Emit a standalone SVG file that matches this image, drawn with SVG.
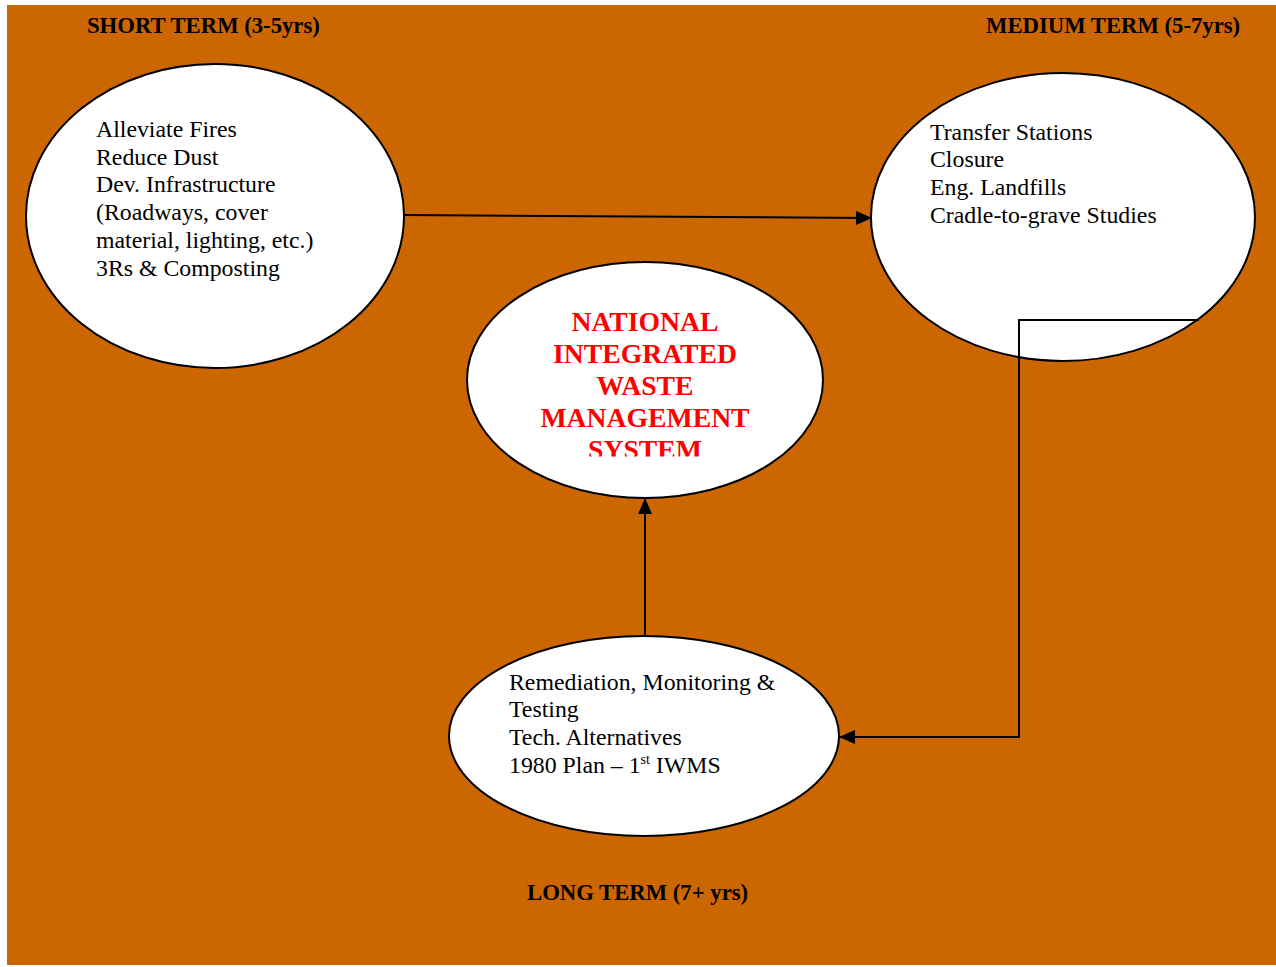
<svg xmlns="http://www.w3.org/2000/svg" width="1276" height="967" viewBox="0 0 1276 967">
<defs>
<style>
.node{fill:#fff;stroke:#000;stroke-width:2}
.hdr{font-family:"Liberation Serif",serif;font-weight:bold;font-size:22.7px;fill:#000}
.body{font-family:"Liberation Serif",serif;font-size:23.8px;fill:#000}
.title{font-family:"Liberation Serif",serif;font-weight:bold;font-size:27.7px;fill:#ff0000;text-anchor:middle}
.conn{fill:none;stroke:#000;stroke-width:2}
</style>
<marker id="arrL" markerWidth="16" markerHeight="14" refX="15" refY="7" orient="auto" markerUnits="userSpaceOnUse" viewBox="0 0 16 14">
<path d="M0,0 L16,7 L0,14 z" fill="#000"/>
</marker>
<clipPath id="clipC"><rect x="460" y="260" width="370" height="196.5"/></clipPath>
</defs>
<rect x="7" y="5" width="1269" height="960" fill="#CC6600"/>
<text class="hdr" x="87" y="33">SHORT TERM (3-5yrs)</text>
<text class="hdr" x="986" y="33">MEDIUM TERM (5-7yrs)</text>
<text class="hdr" x="527" y="900">LONG TERM (7+ yrs)</text>
<g id="short-term">
<ellipse class="node" cx="215" cy="216" rx="189" ry="152"/>
<text class="body" x="96" y="137">Alleviate Fires</text>
<text class="body" x="96" y="165">Reduce Dust</text>
<text class="body" x="96" y="192">Dev. Infrastructure</text>
<text class="body" x="96" y="220">(Roadways, cover</text>
<text class="body" x="96" y="248">material, lighting, etc.)</text>
<text class="body" x="96" y="276">3Rs &amp; Composting</text>
</g>
<g id="medium-term">
<ellipse class="node" cx="1063" cy="217" rx="192" ry="144"/>
<text class="body" x="930" y="140">Transfer Stations</text>
<text class="body" x="930" y="167">Closure</text>
<text class="body" x="930" y="195">Eng. Landfills</text>
<text class="body" x="930" y="223">Cradle-to-grave Studies</text>
</g>
<g id="center">
<ellipse class="node" cx="645" cy="380" rx="178" ry="118"/>
<g clip-path="url(#clipC)">
<text class="title" x="645" y="331">NATIONAL</text>
<text class="title" x="645" y="363">INTEGRATED</text>
<text class="title" x="645" y="395">WASTE</text>
<text class="title" x="645" y="427">MANAGEMENT</text>
<text class="title" x="645" y="459">SYSTEM</text>
</g>
</g>
<g id="long-term">
<ellipse class="node" cx="644" cy="736" rx="195" ry="100"/>
<text class="body" x="509" y="690">Remediation, Monitoring &amp;</text>
<text class="body" x="509" y="717">Testing</text>
<text class="body" x="509" y="745">Tech. Alternatives</text>
<text class="body" x="509" y="773">1980 Plan – 1<tspan font-size="14" dy="-9">st</tspan><tspan dy="9"> IWMS</tspan></text>
</g>
<g id="connectors">
<path class="conn" d="M404,215 L871,218" marker-end="url(#arrL)"/>
<path class="conn" d="M1199,320 L1019,320 L1019,737 L840,737" marker-end="url(#arrL)"/>
<path class="conn" d="M645,636 L645,499" marker-end="url(#arrL)"/>
</g>
</svg>
